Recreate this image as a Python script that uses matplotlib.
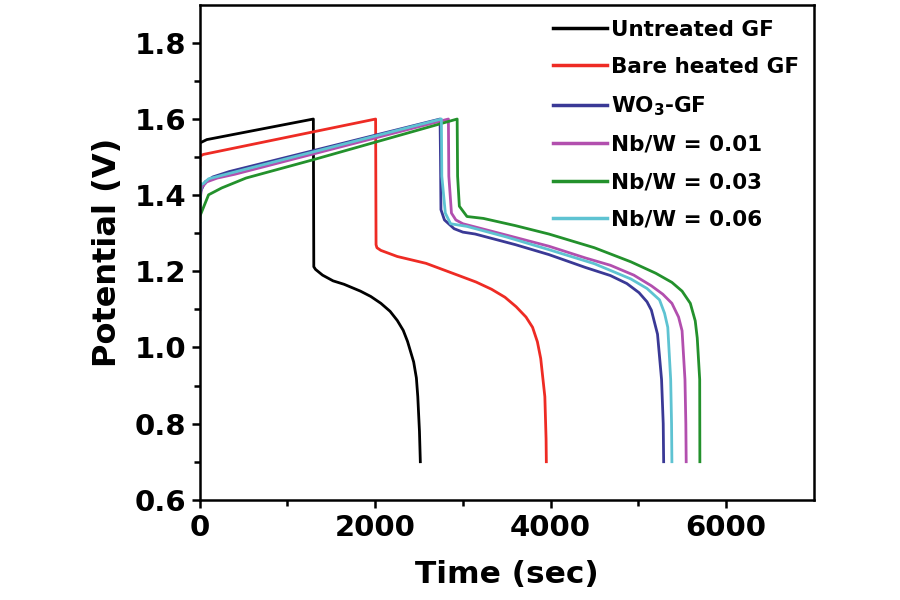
import numpy as np
import matplotlib
matplotlib.use("Agg")
import matplotlib.pyplot as plt

# -----------------------------
# DATA
# -----------------------------
labels = ["Untreated GF", "Bare heated GF", r"WO$_\mathbf{3}$-GF",
          "Nb/W = 0.01", "Nb/W = 0.03", "Nb/W = 0.06"]
colors = ["#000000", "#ee2b24", "#3a3996", "#b24fae", "#23912c", "#5ec3d2"]

t_untreated = [0, 0, 80, 1295, 1300, 1320, 1400, 1520, 1645, 1832, 1950, 2065,
               2170, 2252, 2320, 2369, 2439, 2470, 2486, 2505, 2515]
v_untreated = [1.45, 1.537, 1.546, 1.600, 1.212, 1.205, 1.19, 1.175, 1.166, 1.148,
               1.134, 1.116, 1.095, 1.071, 1.045, 1.016, 0.962, 0.92, 0.871, 0.78, 0.70]

t_bare = [0, 0, 40, 2005, 2010, 2020, 2065, 2252, 2580, 2953, 3150, 3327, 3480,
          3608, 3720, 3795, 3850, 3888, 3935, 3949, 3952]
v_bare = [1.48, 1.502, 1.507, 1.60, 1.27, 1.262, 1.255, 1.239, 1.221, 1.189, 1.172,
          1.153, 1.132, 1.107, 1.080, 1.053, 1.015, 0.971, 0.871, 0.76, 0.70]

t_wo3 = [0, 0, 10, 60, 150, 336, 2740, 2745, 2750, 2790, 2900, 3000, 3140, 3600,
         3981, 4400, 4682, 4870, 5009, 5100, 5150, 5220, 5266, 5285, 5290]
v_wo3 = [1.10, 1.371, 1.41, 1.435, 1.448, 1.462, 1.60, 1.50, 1.362, 1.335, 1.312,
         1.303, 1.298, 1.27, 1.244, 1.21, 1.189, 1.168, 1.144, 1.12, 1.098, 1.035,
         0.916, 0.80, 0.70]

t_nb01 = [0, 0, 20, 80, 200, 400, 2835, 2840, 2870, 2920, 3000, 3500, 3981, 4400,
          4682, 4950, 5150, 5280, 5384, 5460, 5500, 5533, 5543, 5547]
v_nb01 = [1.30, 1.38, 1.42, 1.435, 1.445, 1.455, 1.60, 1.45, 1.353, 1.335, 1.325,
          1.295, 1.266, 1.235, 1.216, 1.19, 1.162, 1.14, 1.116, 1.08, 1.044, 0.916,
          0.80, 0.70]

t_nb03 = [0, 0, 100, 250, 527, 1292, 2935, 2940, 2960, 3047, 3234, 3600, 3981,
          4500, 4916, 5200, 5384, 5500, 5594, 5650, 5673, 5701, 5703]
v_nb03 = [1.33, 1.344, 1.401, 1.419, 1.445, 1.493, 1.60, 1.45, 1.371, 1.344, 1.339,
          1.32, 1.298, 1.262, 1.225, 1.195, 1.171, 1.148, 1.116, 1.07, 1.025, 0.916,
          0.70]

t_nb06 = [0, 0, 15, 40, 100, 350, 2755, 2760, 2800, 2860, 3047, 3500, 3981, 4500,
          4916, 5100, 5243, 5300, 5337, 5370, 5380, 5384]
v_nb06 = [1.18, 1.36, 1.43, 1.43, 1.443, 1.458, 1.60, 1.45, 1.353, 1.325, 1.318,
          1.29, 1.257, 1.22, 1.18, 1.155, 1.125, 1.09, 1.053, 0.916, 0.80, 0.70]

series_t = [t_untreated, t_bare, t_wo3, t_nb01, t_nb03, t_nb06]
series_v = [v_untreated, v_bare, v_wo3, v_nb01, v_nb03, v_nb06]

# -----------------------------
# PLOT
# -----------------------------
plt.rcParams['font.family'] = ['DejaVu Sans']
plt.rcParams['font.weight'] = 'bold'
plt.rcParams['mathtext.fontset'] = 'dejavusans'

fig = plt.figure(figsize=(9, 6), dpi=100)
ax = fig.add_axes([0.222, 0.167, 0.682, 0.825])

for t, v, c, lab in zip(series_t, series_v, colors, labels):
    ax.plot(t, v, color=c, lw=2.0, label=lab)

ax.set_xlim(0, 7000)
ax.set_ylim(0.6, 1.9)
ax.set_xticks([0, 2000, 4000, 6000])
ax.set_xticks(np.arange(1000, 7000, 2000), minor=True)
ax.set_yticks(np.arange(0.6, 1.81, 0.2))
ax.set_yticks(np.arange(0.7, 1.9, 0.2), minor=True)
ax.set_yticklabels([f"{y:.1f}" for y in np.arange(0.6, 1.81, 0.2)])

ax.tick_params(which='major', direction='out', length=6, width=1.8,
               labelsize=21, pad=4)
ax.tick_params(which='minor', direction='out', length=4, width=1.8)
for s in ax.spines.values():
    s.set_linewidth(1.8)

ax.set_xlabel("Time (sec)", fontsize=22.5, fontweight='bold', labelpad=13)
ax.set_ylabel("Potential (V)", fontsize=23, fontweight='bold', labelpad=8)

leg = ax.legend(loc='upper left', bbox_to_anchor=(0.575, 0.97), frameon=False,
                fontsize=15.5, handlelength=2.5, handletextpad=0.2,
                labelspacing=0.8, borderpad=0, borderaxespad=0)
for line in leg.get_lines():
    line.set_linewidth(2.5)

fig.savefig("out.png", dpi=100)
